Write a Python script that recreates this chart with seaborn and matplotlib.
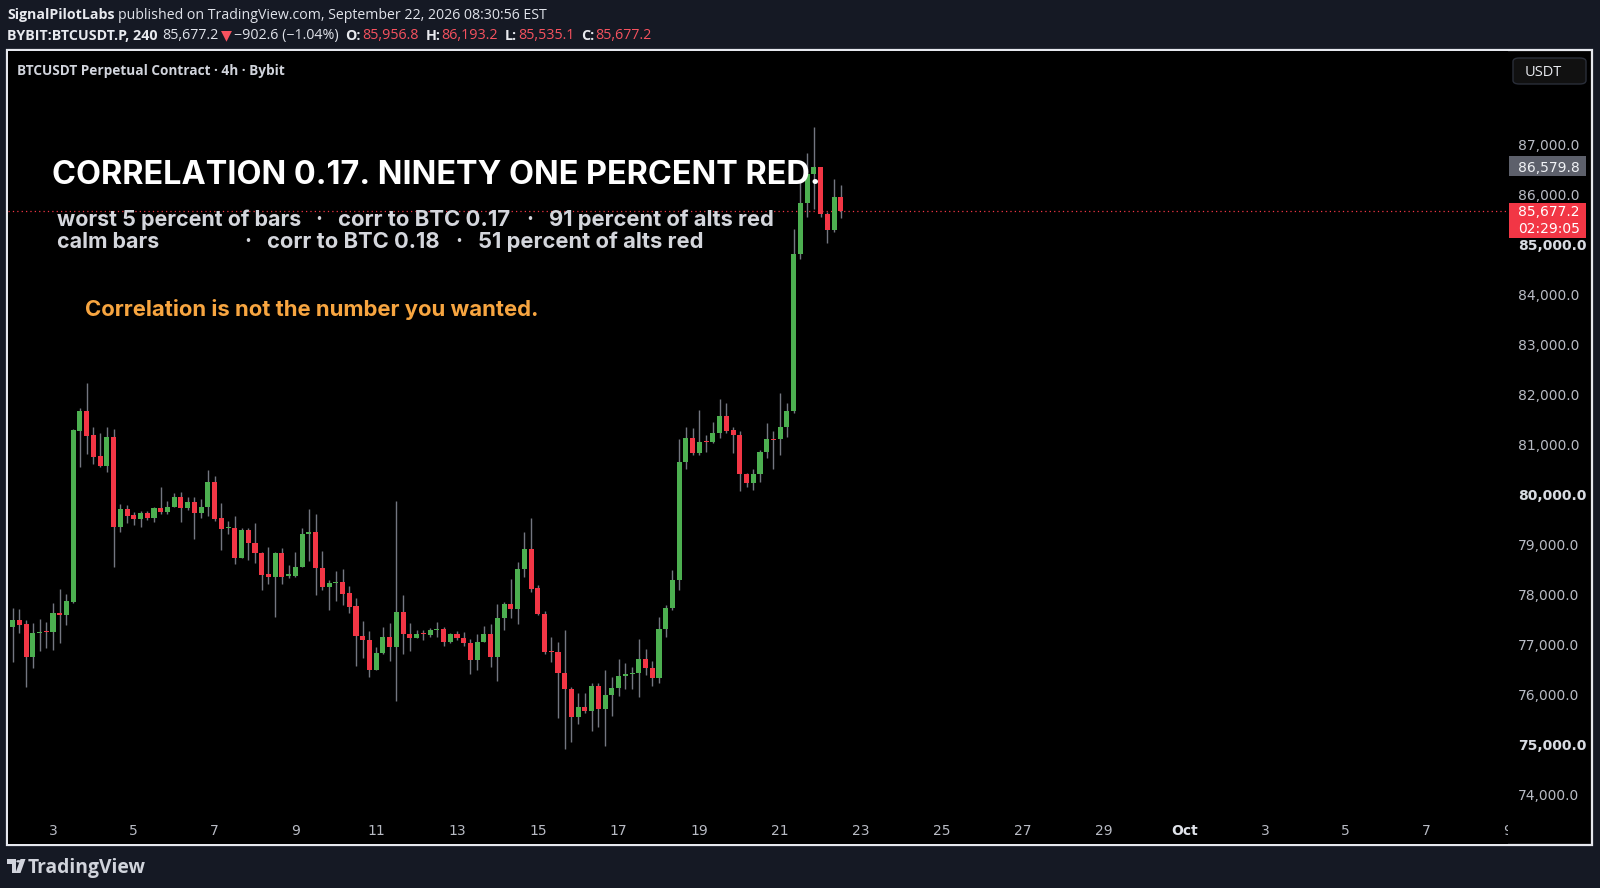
import matplotlib
matplotlib.use("Agg")
import matplotlib.pyplot as plt
import matplotlib.transforms as mtransforms
from matplotlib.patches import Rectangle, FancyBboxPatch, Circle, Polygon
import seaborn as sns
import numpy as np
import pandas as pd

# ---------------- data (BYBIT:BTCUSDT.P, 4h bars from Sept 2) ----------------
opens = [77353, 77500, 77413, 76767, 77233, 77287, 77267, 77633, 77600, 77867,
         81287, 81687, 81200, 80780, 80587, 81153, 79353, 79713, 79600, 79520,
         79633, 79547, 79733, 79667, 79767, 79967, 79747, 79853, 79647, 79753,
         80267, 79533, 79347, 79347, 78747, 79300, 79047, 78833, 78413, 78353,
         78833, 78380, 78387, 78567, 79220, 79253, 78547, 78167, 78233, 78253,
         78033, 77780, 77187, 77100, 76500, 76833, 77153, 76967, 77653, 77213,
         77147, 77233, 77200, 77293, 77320, 77053, 77213, 77147, 77047, 76700,
         77067, 77220, 76753, 77533, 77813, 77713, 78513, 78913, 78133, 77620,
         76880, 76853, 76447, 76120, 75567, 75753, 75687, 76180, 75713, 76000,
         76147, 76380, 76413, 76447, 76713, 76533, 76347, 77320, 77747, 78300,
         80667, 81147, 80833, 81087, 81053, 81247, 81580, 81300, 81200, 80420,
         80233, 80413, 80853, 81120, 81120, 81367, 81680, 84820, 85847, 86413,
         86553, 85620, 85300, 85956.8]
highs = [77747, 77713, 77500, 77433, 77513, 77453, 77847, 78120, 78020, 81313,
         81733, 82247, 81367, 81233, 81367, 81313, 79813, 79800, 79667, 79687,
         79687, 79753, 80167, 79880, 80033, 80053, 79967, 79967, 79913, 80500,
         80380, 79847, 79487, 79580, 79347, 79333, 79433, 78867, 78953, 78867,
         78933, 78600, 78867, 79347, 79713, 79620, 78880, 78300, 78480, 78513,
         78180, 77933, 77487, 77287, 76967, 77367, 77447, 79880, 78000, 77447,
         77300, 77300, 77333, 77453, 77353, 77247, 77287, 77253, 77113, 77213,
         77380, 77413, 77813, 77867, 78313, 78653, 79267, 79547, 78200, 77687,
         77153, 77053, 77300, 76167, 76047, 76033, 76247, 76247, 76500, 76367,
         76713, 76633, 76567, 77120, 76920, 76680, 77553, 77800, 78500, 81113,
         81353, 81333, 81700, 81200, 81467, 81913, 81833, 81367, 81280, 80433,
         80520, 80900, 81447, 81280, 82047, 81833, 85320, 86287, 86847, 87353,
         86553, 85667, 86313, 86193.2]
lows = [76653, 77233, 76167, 76547, 76887, 76933, 76900, 77047, 77393, 77833,
        80567, 80820, 80613, 80567, 80453, 78567, 79267, 79447, 79400, 79367,
        79500, 79467, 79620, 79620, 79753, 79453, 79700, 79113, 79533, 79587,
        79487, 78900, 79213, 78613, 78747, 78700, 78647, 78100, 78213, 77567,
        78213, 78333, 78367, 78553, 78680, 78000, 78100, 77700, 77880, 77800,
        77633, 76580, 76733, 76367, 76500, 76820, 76687, 75887, 76820, 76887,
        77133, 77100, 77167, 77153, 76987, 77033, 77100, 76987, 76413, 76500,
        77053, 76553, 76280, 77300, 77533, 77413, 78367, 78067, 77600, 76820,
        76653, 75533, 74913, 75067, 75420, 75633, 75287, 75367, 74987, 75580,
        75987, 76113, 76113, 75953, 76400, 76187, 76233, 77167, 77700, 78100,
        80513, 80800, 80800, 80867, 81033, 81133, 81233, 80833, 80080, 80167,
        80100, 80267, 80733, 80520, 80800, 81167, 81647, 84720, 85553, 85720,
        85553, 85033, 85267, 85535.1]
closes = [77500, 77400, 76767, 77233, 77267, 77267, 77633, 77600, 77880, 81300,
          81687, 81187, 80767, 80587, 81153, 79353, 79713, 79587, 79520, 79633,
          79547, 79733, 79667, 79767, 79967, 79747, 79853, 79647, 79753, 80267,
          79520, 79320, 79367, 78747, 79300, 79033, 78833, 78400, 78353, 78833,
          78367, 78413, 78567, 79220, 79267, 78547, 78167, 78233, 78253, 78020,
          77767, 77187, 77100, 76500, 76833, 77153, 76967, 77653, 77213, 77147,
          77213, 77213, 77300, 77320, 77053, 77220, 77133, 77047, 76700, 77067,
          77220, 76753, 77533, 77813, 77713, 78513, 78913, 78120, 77613, 76853,
          76853, 76447, 76113, 75567, 75753, 75687, 76180, 75713, 76000, 76147,
          76380, 76413, 76447, 76713, 76533, 76347, 77320, 77747, 78300, 80667,
          81147, 80833, 81053, 81053, 81247, 81580, 81287, 81200, 80420, 80233,
          80413, 80853, 81120, 81100, 81367, 81680, 84820, 85847, 86413, 86553,
          85620, 85300, 85957, 85677.2]
start_day = 2            # first bar: Sept 2, 00:00
bars_per_day = 6         # 4h bars
last_price = 85677.2
prev_close = 86579.8
price_ticks = list(range(74000, 88000, 1000))
bold_price_ticks = [75000, 80000, 85000]
date_ticks = [3, 5, 7, 9, 11, 13, 15, 17, 19, 21, 23, 25, 27, 29, 31, 33, 35, 37, 39]
date_labels = ["3", "5", "7", "9", "11", "13", "15", "17", "19", "21", "23", "25",
               "27", "29", "Oct", "3", "5", "7", "9"]

title = "CORRELATION 0.17. NINETY ONE PERCENT RED."
row1 = ["worst 5 percent of bars", "corr to BTC 0.17", "91 percent of alts red"]
row2 = ["calm bars", "corr to BTC 0.18", "51 percent of alts red"]
note = "Correlation is not the number you wanted."

# ---------------- style ----------------
NAVY = "#151924"
GREEN = "#4caf50"
RED = "#f23645"
WICK = "#737680"
TXT = "#d1d4dc"

sns.set_theme(style="dark", rc={"axes.facecolor": "black", "figure.facecolor": NAVY})
plt.rcParams['font.family'] = ['DejaVu Sans']

W, H = 1600, 888
fig = plt.figure(figsize=(16, 8.88), dpi=100, facecolor=NAVY)
R = fig.canvas.get_renderer()


def fx(x):
    return x / W


def fy(y):
    return 1 - y / H


# chart frame
fig.add_artist(Rectangle((fx(7), fy(845)), fx(1592) - fx(7), fy(50) - fy(845),
                         transform=fig.transFigure, facecolor="black",
                         edgecolor="#e6e8ee", lw=1.6, zorder=0))

ax = fig.add_axes([fx(8), fy(844), fx(1508) - fx(8), fy(51) - fy(844)])
ax.set_facecolor("black")
for s in ax.spines.values():
    s.set_visible(False)
ax.grid(False)

df = pd.DataFrame({"open": opens, "high": highs, "low": lows, "close": closes})
df["t"] = start_day + np.arange(len(df)) / bars_per_day
df["up"] = df["close"] >= df["open"]
df["bottom"] = df[["open", "close"]].min(axis=1)
df["height"] = (df["close"] - df["open"]).abs().clip(lower=22)

ax.vlines(df["t"], df["low"], df["high"], color=WICK, lw=1.0, zorder=2)
ax.bar(df["t"], df["height"], bottom=df["bottom"], width=0.125,
       color=np.where(df["up"], GREEN, RED), linewidth=0, zorder=3)

ax.axhline(last_price, color=RED, lw=0.9, ls=(0, (1, 2.5)), zorder=1)

ax.set_xlim(1.886, 39.015)
ax.set_ylim(73020, 88880)

# price scale on right
ax.yaxis.tick_right()
ax.set_yticks(price_ticks)
ax.set_yticklabels([f"{p:,.1f}" for p in price_ticks])
ax.tick_params(axis="y", length=0, pad=7.2, labelsize=10, labelcolor="#b8bbc4")
for lab, p in zip(ax.get_yticklabels(), price_ticks):
    if p in bold_price_ticks:
        lab.set_fontweight("bold")
        lab.set_color("#d8dbe2")
ax.set_xticks([])

# date labels inside chart, clipped at the price scale
trans = mtransforms.blended_transform_factory(ax.transData, fig.transFigure)
for d, lab in zip(date_ticks, date_labels):
    ax.text(d, fy(830.5), lab, transform=trans, ha="center", va="center",
            fontsize=10, color="#e0e3ea" if lab == "Oct" else "#b8bbc4",
            fontweight="bold" if lab == "Oct" else "normal", clip_on=True)


def fit_text(x, y, s, target_w, **kw):
    t = fig.text(fx(x), fy(y), s, ha="left", va="center", fontsize=20, **kw)
    w = t.get_window_extent(R).width
    t.set_fontsize(20 * target_w / w)
    return t


def runs(x0, y, parts, size, family):
    x = x0
    for text, color, weight, gap in parts:
        x += gap
        t = fig.text(x / W, fy(y), text, color=color, fontweight=weight,
                     fontsize=size, family=family, ha="left", va="center")
        x = t.get_window_extent(R).x1


HF = ["Open Sans", "DejaVu Sans"]
HRED = "#f7525f"
runs(7, 15.5, [("SignalPilotLabs", "#e8eaef", "bold", 0),
               ("published on TradingView.com, September 22, 2026 08:30:56 EST", "#e0e3ea", "normal", 4)],
     10.15, HF)
runs(7, 35.5, [("BYBIT:BTCUSDT.P, 240", "#e8eaef", "bold", 0),
               ("85,677.2", "#e0e3ea", "normal", 5),
               ("▼", HRED, "normal", 2),
               ("−902.6 (−1.04%)", "#e0e3ea", "normal", 2),
               ("O:", "#e8eaef", "bold", 7), ("85,956.8", HRED, "normal", 1),
               ("H:", "#e8eaef", "bold", 7), ("86,193.2", HRED, "normal", 1),
               ("L:", "#e8eaef", "bold", 7), ("85,535.1", HRED, "normal", 1),
               ("C:", "#e8eaef", "bold", 7), ("85,677.2", HRED, "normal", 1)],
     10.3, HF)

fit_text(17, 71, "BTCUSDT Perpetual Contract · 4h · Bybit", 267,
         color=TXT, fontweight="bold", family=HF)

# USDT button
fig.add_artist(FancyBboxPatch((fx(1513), fy(84)), fx(1586) - fx(1513), fy(58) - fy(84),
                              boxstyle="round,pad=0,rounding_size=0.004",
                              transform=fig.transFigure, facecolor="#111111",
                              edgecolor="#2a2e39", lw=1.0))
fig.text(fx(1543), fy(73), "USDT", ha="center", va="center", fontsize=10.5,
         color="#e8eaef", family=HF)


# last price / previous close labels
def price_y(p):
    return ax.transData.transform((0, p))[1] / H


fig.add_artist(Rectangle((fx(1509), price_y(prev_close) - 10 / H), fx(1586) - fx(1509), 20 / H,
                         transform=fig.transFigure, facecolor="#5d606b", edgecolor="none"))
fig.text(fx(1518), price_y(prev_close) - 1.5 / H, f"{prev_close:,.1f}", ha="left", va="center",
         fontsize=10, color="#f0f2f5")
ly = price_y(last_price)
fig.add_artist(Rectangle((fx(1509), ly - 27 / H), fx(1586) - fx(1509), 35 / H,
                         transform=fig.transFigure, facecolor=RED, edgecolor="none"))
fig.text(fx(1518), ly - 1 / H, f"{last_price:,.1f}", ha="left", va="center", fontsize=10, color="white")
fig.text(fx(1518), ly - 18 / H, "02:29:05", ha="left", va="center", fontsize=10, color="white")

# annotations
TF = ["Inter", "DejaVu Sans"]
fit_text(52, 176, title, 770, color="white", fontweight="bold", family=TF)
SUB = "#d4d6dc"
x1 = [57, 338, 549]
x2 = [57, 267, 478]
dots1 = [319, 530]
dots2 = [248, 459]
w1 = [244, 173, 225]
w2 = [102, 173, 225]
for xs, ws, txts, yy, dots in [(x1, w1, row1, 219.5, dots1), (x2, w2, row2, 242, dots2)]:
    for xx, ww, tt in zip(xs, ws, txts):
        fit_text(xx, yy, tt, ww, color=SUB, fontweight="bold", family=TF)
    for dx in dots:
        fig.text(fx(dx), fy(yy), "·", ha="center", va="center", fontsize=15,
                 color=SUB, fontweight="bold", family=TF)
fit_text(85, 310, note, 455, color="#f7a540", fontweight="bold", family=TF)

# footer logo
lc = "#d1d4dc"
fig.add_artist(Polygon([(fx(7), fy(859)), (fx(16), fy(859)), (fx(16), fy(873)),
                        (fx(11.5), fy(873)), (fx(11.5), fy(863.5)), (fx(7), fy(863.5))],
                       closed=True, transform=fig.transFigure, facecolor=lc, edgecolor="none"))
fig.add_artist(Circle((fx(18.5), fy(861.3)), 2.2 / W, transform=fig.transFigure,
                      facecolor=lc, edgecolor="none"))
fig.add_artist(Polygon([(fx(20.5), fy(859)), (fx(25.5), fy(859)), (fx(20.5), fy(873)),
                        (fx(15.5), fy(873))],
                       closed=True, transform=fig.transFigure, facecolor=lc, edgecolor="none"))
fit_text(28, 868, "TradingView", 118, color=lc, fontweight="bold", family=HF)

fig.savefig("out.png", dpi=100, facecolor=NAVY)
